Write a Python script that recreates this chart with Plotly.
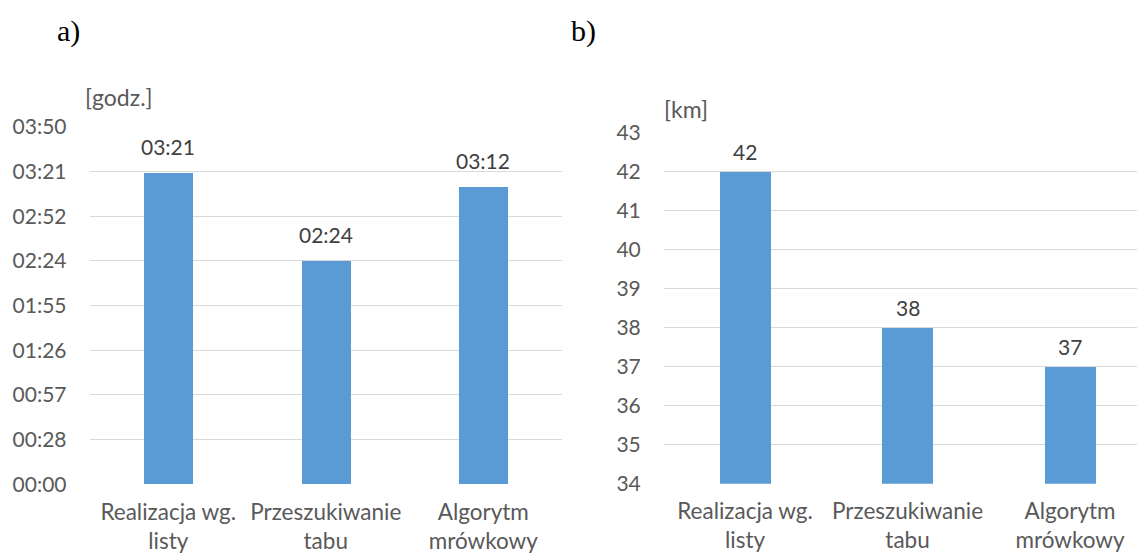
import plotly.graph_objects as go

categories = ["Realizacja wg.<br>listy", "Przeszukiwanie<br>tabu", "Algorytm<br>mrówkowy"]
time_labels = ["03:21", "02:24", "03:12"]          # chart a) values (hh:mm)
distance_km = [42, 38, 37]                          # chart b) values
time_tick_labels = ["00:00", "00:28", "00:57", "01:26", "01:55", "02:24", "02:52", "03:21", "03:50"]
time_tick_step_min = 28.8                            # 0.02 day
km_ticks = [34, 35, 36, 37, 38, 39, 40, 41, 42, 43]

def to_min(s):
    h, m = s.split(":")
    return int(h) * 60 + int(m)

time_min = [to_min(s) for s in time_labels]
time_tickvals = [i * time_tick_step_min for i in range(len(time_tick_labels))]

W, H = 1137, 555
BAR = "#5B9BD5"
GRID = "#D9D9D9"
TXT = "#595959"
LBL = "#404040"
FONT = "Lato"

fig = go.Figure()
fig.add_trace(go.Bar(x=[0, 1, 2], y=time_min, marker=dict(color=BAR, line=dict(width=0)),
                     width=0.31, xaxis="x", yaxis="y", hoverinfo="skip"))
fig.add_trace(go.Bar(x=[0, 1, 2], y=distance_km, marker=dict(color=BAR, line=dict(width=0)),
                     width=0.314, xaxis="x2", yaxis="y2", hoverinfo="skip"))

def px_x(p):
    return p / W

def px_y(p):
    return 1 - p / H

annotations = []
for i, (v, s) in enumerate(zip(time_min, time_labels)):
    annotations.append(dict(x=i, y=v, xref="x", yref="y", text=s, showarrow=False,
                            yanchor="middle", yshift=26,
                            font=dict(family=FONT, size=21, color=LBL)))
for i, v in enumerate(distance_km):
    annotations.append(dict(x=i, y=v, xref="x2", yref="y2", text=str(v), showarrow=False,
                            yanchor="middle", yshift=20,
                            font=dict(family=FONT, size=21, color=LBL)))

annotations += [
    dict(x=px_x(55), y=px_y(31), xref="paper", yref="paper", text="a)", showarrow=False,
         xanchor="left", yanchor="middle",
         font=dict(family="Liberation Serif", size=30, color="#000000")),
    dict(x=px_x(569), y=px_y(31), xref="paper", yref="paper", text="b)", showarrow=False,
         xanchor="left", yanchor="middle",
         font=dict(family="Liberation Serif", size=30, color="#000000")),
    dict(x=px_x(83), y=px_y(97), xref="paper", yref="paper", text="[godz.]", showarrow=False,
         xanchor="left", yanchor="middle", font=dict(family=FONT, size=23, color=TXT)),
    dict(x=px_x(662), y=px_y(109), xref="paper", yref="paper", text="[km]", showarrow=False,
         xanchor="left", yanchor="middle", font=dict(family=FONT, size=23, color=TXT)),
]

ytick_font = dict(family=FONT, size=21, color=TXT)
xtick_font = dict(family=FONT, size=22.5, color=TXT)

fig.update_layout(
    width=W, height=H,
    margin=dict(l=0, r=0, t=0, b=0, autoexpand=False),
    paper_bgcolor="white", plot_bgcolor="white",
    showlegend=False,
    annotations=annotations,
    xaxis=dict(domain=[px_x(89.5), px_x(562)], range=[-0.5, 2.5],
               tickvals=[0, 1, 2], ticktext=categories, tickfont=xtick_font,
               showgrid=False, zeroline=False, showline=False, ticks="", anchor="y",
               automargin=False, ticklabelstandoff=12),
    yaxis=dict(domain=[px_y(484.3), px_y(127)], range=[0, time_tickvals[-1]],
               tickvals=time_tickvals, ticktext=time_tick_labels, tickfont=ytick_font,
               showgrid=True, gridcolor=GRID, gridwidth=1, zeroline=False, showline=False,
               ticks="", ticklabelstandoff=22, anchor="x", automargin=False),
    xaxis2=dict(domain=[px_x(663.8), 1], range=[-0.5, 2.5 - (663.8 + 487.5 - W) / 162.5],
                tickvals=[0, 1, 2], ticktext=categories, tickfont=xtick_font,
                showgrid=False, zeroline=False, showline=False, ticks="", anchor="y2",
                automargin=False, ticklabelstandoff=12),
    yaxis2=dict(domain=[px_y(483.7), px_y(132.5)], range=[34, 43],
                tickvals=km_ticks, ticktext=[str(t) for t in km_ticks], tickfont=ytick_font,
                showgrid=True, gridcolor=GRID, gridwidth=1, zeroline=False, showline=False,
                ticks="", ticklabelstandoff=22, anchor="x2", automargin=False),
    bargap=0,
)

fig.write_html("out.html", config={"displayModeBar": False},
               post_script="document.body.style.margin='0';document.body.style.overflow='hidden';")
